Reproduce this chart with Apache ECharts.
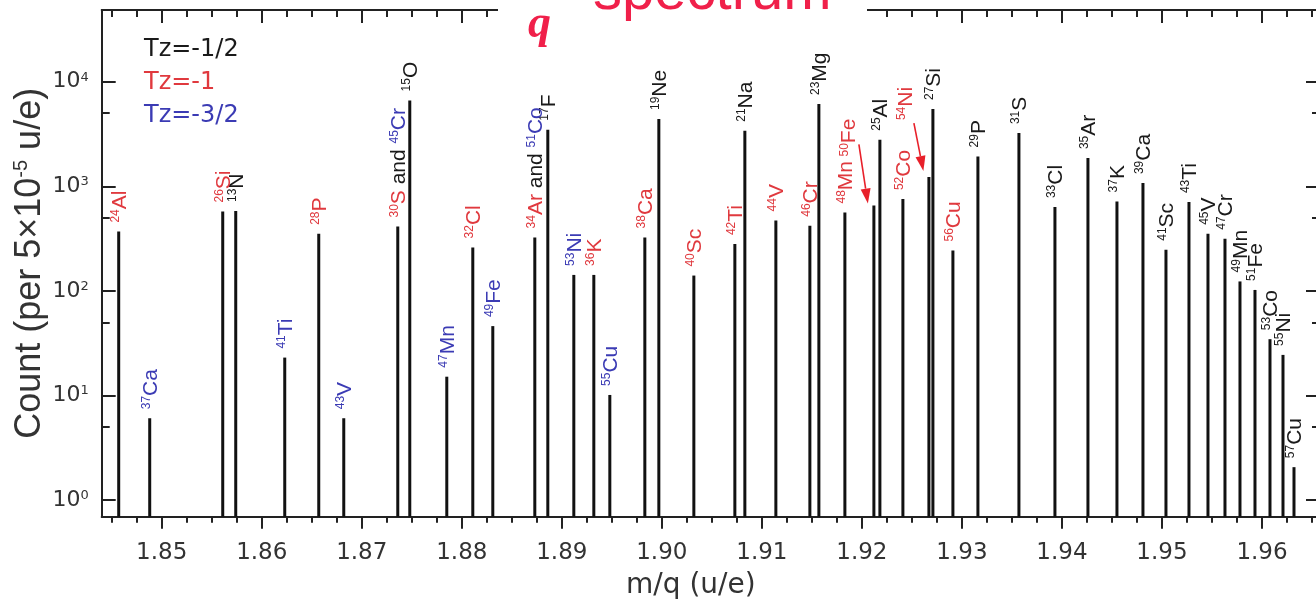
<!DOCTYPE html>
<html>
<head>
<meta charset="utf-8">
<script src="https://cdn.jsdelivr.net/npm/echarts@6/dist/echarts.min.js"></script>
<style>
html,body{margin:0;padding:0;overflow:hidden;background:#fff;}
#chart{width:1324px;height:602px;}
</style>
</head>
<body>
<div id="chart"></div>
<script>
// ---------------- data ----------------
const massNumbers = [24,37,26,13,41,28,43,30,15,47,32,49,34,17,53,36,55,38,19,40,42,21,44,46,23,48,50,25,52,54,27,56,29,31,33,35,37,39,41,43,45,47,49,51,53,55,57];
const elements    = ['Al','Ca','Si','N','Ti','P','V','S','O','Mn','Cl','Fe','Ar','F','Ni','K','Cu','Ca','Ne','Sc','Ti','Na','V','Cr','Mg','Mn','Fe','Al','Co','Ni','Si','Cu','P','S','Cl','Ar','K','Ca','Sc','Ti','V','Cr','Mn','Fe','Co','Ni','Cu'];
const tzValues    = ['-1','-3/2','-1','-1/2','-3/2','-1','-3/2','-1','-1/2','-3/2','-1','-3/2','-1','-1/2','-3/2','-1','-3/2','-1','-1/2','-1','-1','-1/2','-1','-1','-1/2','-1','-1','-1/2','-1','-1','-1/2','-1','-1/2','-1/2','-1/2','-1/2','-1/2','-1/2','-1/2','-1/2','-1/2','-1/2','-1/2','-1/2','-1/2','-1/2','-1/2'];
const mqValues    = [1.8457,1.8488,1.8561,1.8574,1.8623,1.8657,1.8682,1.8736,1.8748,1.8785,1.8811,1.8831,1.8873,1.8886,1.8912,1.8932,1.8948,1.8983,1.8997,1.9032,1.9073,1.9083,1.9114,1.9148,1.9157,1.9183,1.9212,1.9218,1.9241,1.9267,1.9271,1.9291,1.9316,1.9357,1.9393,1.9426,1.9455,1.9481,1.9504,1.9527,1.9546,1.9563,1.9578,1.9593,1.9608,1.9621,1.9632];
const counts      = [369,6.05,574,580,23,351,6.05,412,6620,15.1,260,46,324,3474,142,142,10.1,324,4400,140,280,3398,471,419,6117,561,655,2786,754,1225,5480,243,1929,3228,632,1860,716,1073,247,706,351,315,123,102,34.5,24.4,2.06];
// peaks shared by two nuclides (second nuclide of the label)
const sharedPartners = { '30S': {mass: 45, element: 'Cr', tz: '-3/2'}, '34Ar': {mass: 51, element: 'Co', tz: '-3/2'} };
const tzGroups = ['-1/2', '-1', '-3/2'];
const xTickLabels = ['1.85','1.86','1.87','1.88','1.89','1.90','1.91','1.92','1.93','1.94','1.95','1.96'];
const yTickExponents = [0, 1, 2, 3, 4];
const yMinorTickValues = [5, 50, 500, 5000];

// ---------------- layout / style ----------------
const X_MIN = 1.844, X_MAX = 1.9658, Y_MIN = 0.692, Y_MAX = 48500;
const TZ_COLOR = { '-1/2': '#1a1a1a', '-1': '#e0393e', '-3/2': '#3b3bb4' };
const TZ_KEY = { '-1/2': 'k', '-1': 'r', '-3/2': 'b' };
const AXIS_COLOR = '#222';
// labels moved away from their peak, with an arrow (offsets in px from the peak top)
const arrowLabels = {
  '50Fe': { dx: -25, dy: -49, from: [-15, -61], to: [-6, -2] },
  '54Ni': { dx: -23, dy: -57, from: [-15, -54], to: [-5.5, -6] }
};

const RICH = {};
['k', 'r', 'b'].forEach(function (k) {
  const c = { k: '#1a1a1a', r: '#e0393e', b: '#3b3bb4' }[k];
  RICH[k + 'm'] = { fontFamily: 'Liberation Sans', fontSize: 21, fill: c, color: c, verticalAlign: 'bottom' };
  RICH[k + 's'] = { fontFamily: 'Liberation Sans', fontSize: 12, fill: c, color: c, verticalAlign: 'top' };
});

function labelText(i) {
  const k = TZ_KEY[tzValues[i]];
  let s = '{' + k + 's|' + massNumbers[i] + '}{' + k + 'm|' + elements[i] + '}';
  const p = sharedPartners[massNumbers[i] + elements[i]];
  if (p) {
    const pk = TZ_KEY[p.tz];
    s += '{km| and }{' + pk + 's|' + p.mass + '}{' + pk + 'm|' + p.element + '}';
  }
  return s;
}

function renderPeak(params, api) {
  const i = api.value(2);
  const x = api.value(0), y = api.value(1);
  const top = api.coord([x, y]);
  const base = api.coord([x, Y_MIN]);
  const children = [{
    type: 'line',
    shape: { x1: top[0], y1: base[1], x2: top[0], y2: top[1] },
    style: { stroke: '#111', lineWidth: 3 }
  }];
  const key = massNumbers[i] + elements[i];
  const sp = arrowLabels[key];
  let lx = top[0] + 1, ly = top[1] - 9;
  if (sp) {
    lx = top[0] + sp.dx; ly = top[1] + sp.dy;
    const x1 = top[0] + sp.from[0], y1 = top[1] + sp.from[1];
    const x2 = top[0] + sp.to[0], y2 = top[1] + sp.to[1];
    const ang = Math.atan2(y2 - y1, x2 - x1);
    const hl = 15, hw = 5;
    const bx = x2 - hl * Math.cos(ang), by = y2 - hl * Math.sin(ang);
    children.push({ type: 'line', shape: { x1: x1, y1: y1, x2: bx, y2: by }, style: { stroke: '#e8202a', lineWidth: 1.6 } });
    children.push({ type: 'polygon', shape: { points: [[x2, y2], [bx - hw * Math.sin(ang), by + hw * Math.cos(ang)], [bx + hw * Math.sin(ang), by - hw * Math.cos(ang)]] }, style: { fill: '#e8202a' } });
  }
  children.push({
    type: 'text', x: lx, y: ly, rotation: Math.PI / 2,
    style: { text: labelText(i), rich: RICH, align: 'left', verticalAlign: 'middle', x: 0, y: 0 }
  });
  return { type: 'group', children: children };
}

const series = tzGroups.map(function (g) {
  const data = [];
  mqValues.forEach(function (m, i) { if (tzValues[i] === g) data.push([m, counts[i], i]); });
  return {
    name: 'Tz=' + g, type: 'custom', xAxisIndex: 0, yAxisIndex: 0,
    coordinateSystem: 'cartesian2d', encode: { x: 0, y: 1 }, clip: false,
    renderItem: renderPeak, data: data, itemStyle: { color: TZ_COLOR[g] }, silent: true
  };
});

const xMajor = xTickLabels.map(Number);
const xMinor = [];
for (let k = 0; k < 60; k++) {
  const v = +(1.845 + k * 0.0025).toFixed(4);
  if (v > X_MAX) break;
  if (Math.abs(v * 100 - Math.round(v * 100)) > 1e-6) xMinor.push(v);
}
const yMajor = yTickExponents.map(function (e) { return Math.pow(10, e); });

function xAxisDef(pos, values, tickLen, inside, labels, line) {
  return {
    type: 'value', position: pos, min: X_MIN, max: X_MAX, gridIndex: 0,
    axisLine: { show: line, onZero: false, lineStyle: { color: AXIS_COLOR, width: 2 } },
    axisTick: { show: true, inside: inside, length: tickLen, customValues: values, lineStyle: { color: AXIS_COLOR, width: 2 } },
    axisLabel: labels ? {
      show: true, customValues: values, margin: 25, color: '#333', fontFamily: 'DejaVu Sans', fontSize: 23,
      formatter: function (v) { return (+v).toFixed(2); }
    } : { show: false },
    splitLine: { show: false }, minorTick: { show: false }
  };
}
function yAxisDef(pos, values, tickLen, labels, line) {
  return {
    type: 'log', logBase: 10, position: pos, min: Y_MIN, max: Y_MAX, gridIndex: 0,
    axisLine: { show: line, onZero: false, lineStyle: { color: AXIS_COLOR, width: 2 } },
    axisTick: { show: true, inside: true, length: tickLen, customValues: values, lineStyle: { color: AXIS_COLOR, width: 2 } },
    axisLabel: labels ? {
      show: true, customValues: values, margin: 13, color: '#333',
      formatter: function (v) { return '{m|10}{s|' + Math.round(Math.log10(v)) + '}'; },
      rich: {
        m: { fontFamily: 'DejaVu Sans', fontSize: 22, color: '#333', verticalAlign: 'bottom' },
        s: { fontFamily: 'DejaVu Sans', fontSize: 13, color: '#333', verticalAlign: 'top' }
      }
    } : { show: false },
    splitLine: { show: false }, minorTick: { show: false }
  };
}

const xAxes = [
  xAxisDef('bottom', xMajor, 12, false, true, true),
  xAxisDef('bottom', xMinor, 6, false, false, false),
  xAxisDef('top', xMajor, 13, true, false, true),
  xAxisDef('top', xMinor, 7, true, false, false)
];
xAxes[0].name = 'm/q (u/e)';
xAxes[0].nameLocation = 'middle';
xAxes[0].nameGap = 55;
xAxes[0].nameMoveOverlap = false;
xAxes[0].nameTextStyle = { fontFamily: 'DejaVu Sans', fontSize: 28, color: '#333', padding: [0, 40, 0, 0] };

const yAxes = [
  yAxisDef('left', yMajor, 14, true, true),
  yAxisDef('left', yMinorTickValues, 8, false, false),
  yAxisDef('right', yMajor, 14, false, true),
  yAxisDef('right', yMinorTickValues, 8, false, false)
];
yAxes[0].name = 'Count (per 5\u00d710{sup|-5} u/e)';
yAxes[0].nameLocation = 'middle';
yAxes[0].nameGap = 54;
yAxes[0].nameMoveOverlap = false;
yAxes[0].nameTextStyle = {
  fontFamily: 'Liberation Sans', fontSize: 36, color: '#333',
  rich: { sup: { fontFamily: 'Liberation Sans', fontSize: 20, color: '#333', verticalAlign: 'top' } }
};

const chart = echarts.init(document.getElementById('chart'), null, { renderer: 'canvas' });
chart.setOption({
  animation: false,
  backgroundColor: '#fff',
  textStyle: { fontFamily: 'Liberation Sans' },
  grid: { left: 101.7, right: 4, top: 10, bottom: 85.3, outerBoundsMode: 'none', containLabel: false },
  legend: {
    orient: 'vertical', left: 134, top: 33, itemGap: 9, itemWidth: 0, itemHeight: 0, icon: 'rect',
    selectedMode: false,
    textStyle: { fontFamily: 'DejaVu Sans', fontSize: 24 },
    data: tzGroups.map(function (g) { return { name: 'Tz=' + g, textStyle: { color: TZ_COLOR[g] } }; })
  },
  xAxis: xAxes,
  yAxis: yAxes,
  series: series,
  graphic: [
    { type: 'rect', z: 100, shape: { x: 498, y: 0, width: 369, height: 50 }, style: { fill: '#fff' } },
    { type: 'text', z: 101, x: 593, y: 22, style: { text: 'spectrum', fill: '#f0204a', font: '58px "Liberation Sans"', verticalAlign: 'bottom' } },
    { type: 'text', z: 101, x: 528, y: 48, style: { text: 'q', fill: '#f0204a', font: 'italic bold 46px "Liberation Serif"', verticalAlign: 'bottom' } }
  ]
});
</script>
</body>
</html>
